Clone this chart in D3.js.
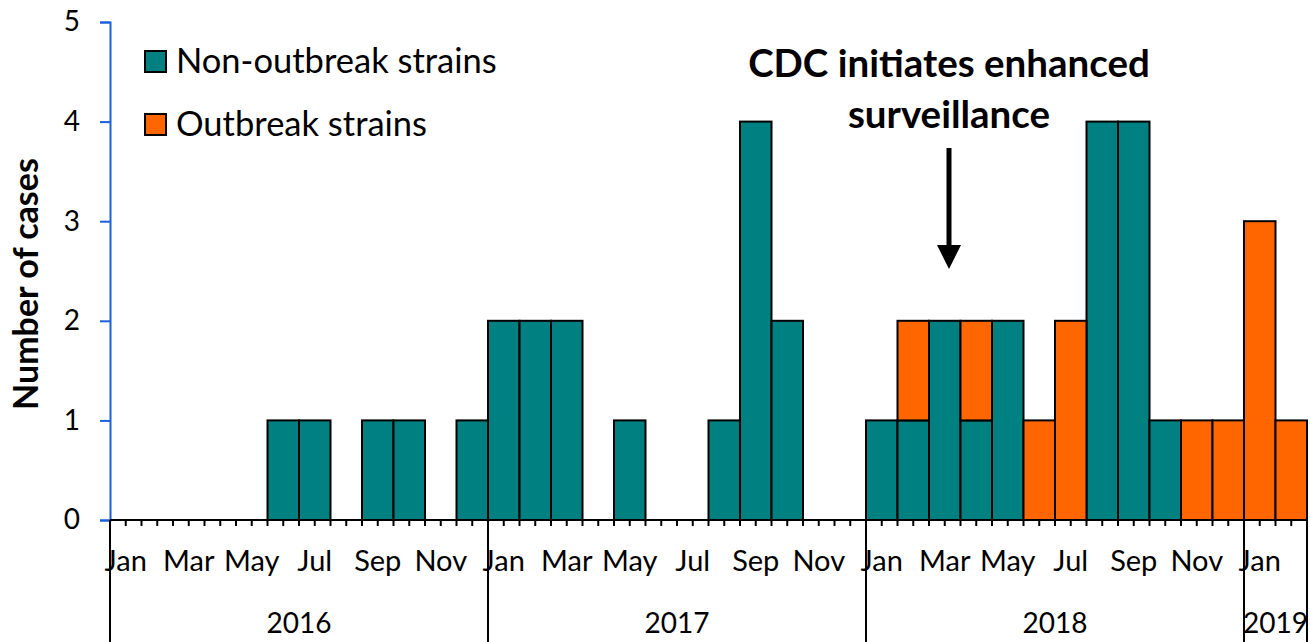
<!DOCTYPE html>
<html>
<head>
<meta charset="utf-8">
<script src="https://cdn.jsdelivr.net/npm/d3@7"></script>
<style>
  body { margin: 0; background: #fff; }
  text { font-family: Lato, "Open Sans", sans-serif; fill: #000; }
</style>
</head>
<body>
<div id="chart"></div>
<script>
// month names and years
const monthNames = ["Jan","Feb","Mar","Apr","May","Jun","Jul","Aug","Sep","Oct","Nov","Dec"];
const years = ["2016", "2017", "2018", "2019"];
const monthsPerYear = [12, 12, 12, 2];

// cases per month, Jan 2016 - Feb 2019
const nonOutbreak = [
  0,0,0,0,0,1,1,0,1,1,0,1,
  2,2,2,0,1,0,0,1,4,2,0,0,
  1,1,2,1,2,0,0,4,4,1,0,0,
  0,0
];
const outbreak = [
  0,0,0,0,0,0,0,0,0,0,0,0,
  0,0,0,0,0,0,0,0,0,0,0,0,
  0,1,0,1,0,1,2,0,0,0,1,1,
  3,1
];
const yTicks = [0, 1, 2, 3, 4, 5];
const seriesNames = ["Non-outbreak strains", "Outbreak strains"];
const colors = ["#008080", "#FF6600"];

// build month rows
let rows = [];
years.forEach((yr, yi) => {
  for (let m = 0; m < monthsPerYear[yi]; m++) {
    let i = rows.length;
    rows.push({ key: yr + "-" + m, month: monthNames[m], year: yr, non: nonOutbreak[i], out: outbreak[i] });
  }
});

const W = 1310, H = 642;
const plotLeft = 110, plotRight = 1307, plotTop = 22, plotBottom = 520;

const svg = d3.select("#chart").append("svg")
  .attr("width", W).attr("height", H);

const x = d3.scaleBand()
  .domain(rows.map(d => d.key))
  .range([plotLeft, plotRight])
  .padding(0);

const y = d3.scaleLinear()
  .domain([0, 5])
  .range([plotBottom, plotTop]);

// stacked bars
const stack = d3.stack().keys(["non", "out"]);
const stacked = stack(rows);

svg.append("g").selectAll("g")
  .data(stacked)
  .join("g")
  .attr("fill", (d, i) => colors[i])
  .selectAll("rect")
  .data(d => d.filter(s => s[1] - s[0] > 0))
  .join("rect")
  .attr("x", d => x(d.data.key))
  .attr("y", d => y(d[1]))
  .attr("width", x.bandwidth())
  .attr("height", d => y(d[0]) - y(d[1]))
  .attr("stroke", "#000")
  .attr("stroke-width", 2);

// y axis (blue)
const yAxis = d3.axisLeft(y).tickValues(yTicks).tickSize(10).tickPadding(20).tickFormat(d3.format("d"));
const yg = svg.append("g")
  .attr("transform", `translate(${plotLeft},0)`)
  .call(yAxis);
yg.select(".domain").attr("stroke", "#1a5fdc").attr("stroke-width", 2);
yg.selectAll(".tick line").attr("stroke", "#1a5fdc").attr("stroke-width", 2);
yg.selectAll(".tick text").attr("font-size", 28).attr("font-family", "Lato, sans-serif").attr("fill", "#000");

// x axis: ticks at month centres, labels every other month
const xAxis = d3.axisBottom(x)
  .tickSize(6)
  .tickPadding(24)
  .tickFormat((d, i) => (i % 2 === 0 ? rows[i].month : ""));
const xg = svg.append("g")
  .attr("transform", `translate(0,${plotBottom})`)
  .call(xAxis);
xg.select(".domain").remove();
xg.selectAll(".tick line").attr("stroke", "#000").attr("stroke-width", 2);
xg.selectAll(".tick text").attr("font-size", 29).attr("font-family", "Lato, sans-serif").attr("fill", "#000");

// axis baseline
svg.append("line")
  .attr("x1", plotLeft).attr("x2", plotRight)
  .attr("y1", plotBottom).attr("y2", plotBottom)
  .attr("stroke", "#000").attr("stroke-width", 2);

// boundary ticks between months
svg.append("g").selectAll("line")
  .data(rows)
  .join("line")
  .attr("x1", d => x(d.key)).attr("x2", d => x(d.key))
  .attr("y1", plotBottom).attr("y2", plotBottom + 6)
  .attr("stroke", "#000").attr("stroke-width", 2);

// year separators and labels
let yearSpans = [];
let start = 0;
years.forEach((yr, yi) => {
  let first = rows[start].key, last = rows[start + monthsPerYear[yi] - 1].key;
  yearSpans.push({ year: yr, x0: x(first), x1: x(last) + x.bandwidth() });
  start += monthsPerYear[yi];
});

svg.append("g").selectAll("line")
  .data(yearSpans.map(d => d.x0).concat([plotRight]))
  .join("line")
  .attr("x1", d => d).attr("x2", d => d)
  .attr("y1", plotBottom).attr("y2", H)
  .attr("stroke", "#000").attr("stroke-width", 2);

svg.append("g").selectAll("text")
  .data(yearSpans)
  .join("text")
  .attr("x", d => (d.x0 + d.x1) / 2)
  .attr("y", 633)
  .attr("text-anchor", "middle")
  .attr("font-size", 28)
  .text(d => d.year);

// y axis title
svg.append("text")
  .attr("transform", `translate(38,284) rotate(-90)`)
  .attr("text-anchor", "middle")
  .attr("font-size", 34)
  .attr("font-weight", "bold")
  .text("Number of cases");

// legend
const legend = svg.append("g").selectAll("g")
  .data(seriesNames)
  .join("g")
  .attr("transform", (d, i) => `translate(145,${51 + i * 63})`);
legend.append("rect")
  .attr("width", 21).attr("height", 21)
  .attr("fill", (d, i) => colors[i])
  .attr("stroke", "#000").attr("stroke-width", 2);
legend.append("text")
  .attr("x", 31).attr("y", 22)
  .attr("font-size", 34.5)
  .text(d => d);

// annotation
const ax = 949;
svg.append("text")
  .attr("x", ax).attr("y", 77)
  .attr("text-anchor", "middle")
  .attr("font-size", 38.5).attr("font-weight", "bold")
  .text("CDC initiates enhanced");
svg.append("text")
  .attr("x", ax).attr("y", 128)
  .attr("text-anchor", "middle")
  .attr("font-size", 38.5).attr("font-weight", "bold")
  .text("surveillance");
svg.append("line")
  .attr("x1", ax).attr("x2", ax)
  .attr("y1", 148).attr("y2", 248)
  .attr("stroke", "#000").attr("stroke-width", 5);
svg.append("path")
  .attr("d", `M${ax - 12},245 L${ax + 12},245 L${ax},269 Z`)
  .attr("fill", "#000");
</script>
</body>
</html>
